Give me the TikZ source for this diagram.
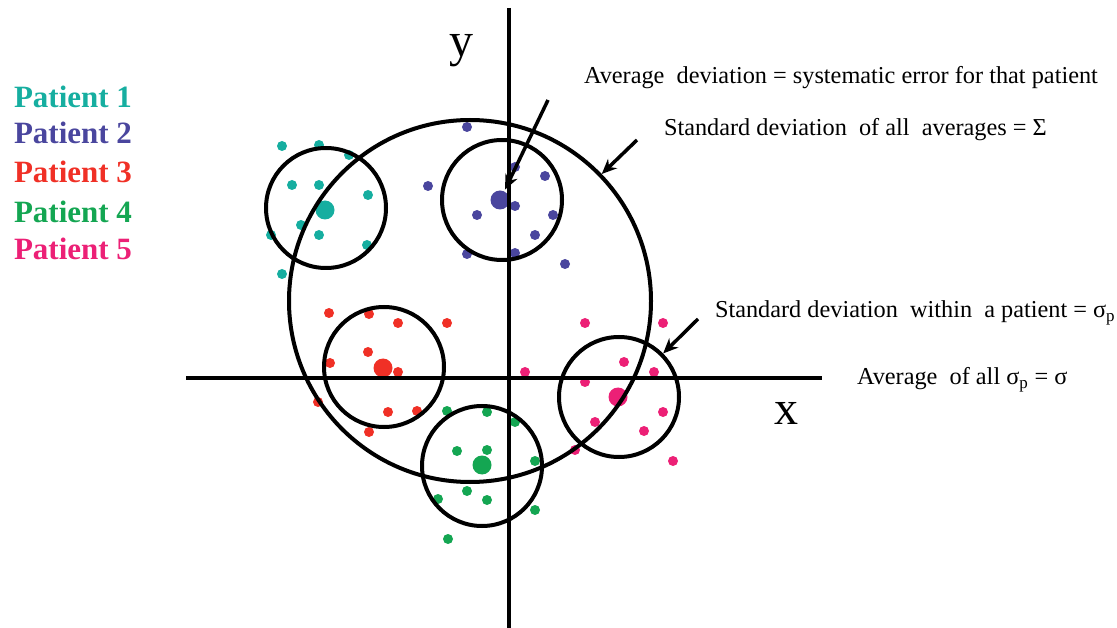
\documentclass[tikz,border=0pt]{standalone}
\usepackage{fontspec}
\setmainfont{Liberation Serif}
\usetikzlibrary{arrows.meta}

\definecolor{pone}{RGB}{22,174,160}
\definecolor{ptwo}{RGB}{74,70,158}
\definecolor{pthree}{RGB}{240,48,38}
\definecolor{pfour}{RGB}{20,166,82}
\definecolor{pfive}{RGB}{236,32,118}

\newcommand{\sgp}{σ\textsubscript{p}}

\begin{document}
\begin{tikzpicture}[x=1pt, y=-1pt, line width=4pt,
  mean/.style={circle, fill, inner sep=0pt, minimum size=19pt},
  ring/.style={draw, circle, inner sep=0pt, minimum size=120pt},
  note/.style={font=\fontsize{24.3}{27}\selectfont, inner sep=0pt, anchor=west},
  legend/.style={font=\fontsize{31}{34}\selectfont\bfseries, inner sep=0pt, anchor=west},
  pointer/.style={-{Stealth[length=15pt, width=13pt]}, line width=3.5pt}]
  \useasboundingbox (0,0) rectangle (1117,628);

  % single readings
  \foreach \p in {(282,146),(319,145),(349,155),(292,185),(319,185),(368,195),
                  (301,225),(319,235),(271,235),(367,245),(282,274)}
    \fill[pone] \p circle (5pt);
  \foreach \p in {(467,127),(428,186),(515,167),(545,176),(515,206),(477,215),
                  (553,215),(535,235),(467,254),(515,253),(565,264)}
    \fill[ptwo] \p circle (5pt);
  \foreach \p in {(329,313),(369,314),(398,323),(447,323),(368,352),(330,363),
                  (398,372),(318,402),(388,412),(417,411),(369,432)}
    \fill[pthree] \p circle (5pt);
  \foreach \p in {(447,411),(487,412),(515,422),(457,451),(487,450),(535,461),
                  (467,491),(438,499),(487,500),(535,510),(448,539)}
    \fill[pfour] \p circle (5pt);
  \foreach \p in {(585,323),(663,323),(525,372),(624,362),(654,372),(585,382),
                  (663,412),(595,422),(644,431),(575,450),(673,461)}
    \fill[pfive] \p circle (5pt);

  % patient means
  \node[mean, pone] (m1) at (325,210) {};
  \node[mean, ptwo] (m2) at (500,200) {};
  \node[mean, pthree] (m3) at (383,368) {};
  \node[mean, pfour] (m4) at (482,465) {};
  \node[mean, pfive] (m5) at (618,397) {};

  % axes
  \draw[line width=3.3pt] (509,8) -- (509,628);
  \draw[line width=3.3pt] (186,378) -- (822,378);
  \node[font=\fontsize{48}{50}\selectfont, inner sep=0pt] (ylab) at (461,51) {y};
  \node[font=\fontsize{48}{50}\selectfont, inner sep=0pt] (xlab) at (786,413) {x};

  % spread circles
  \node[ring] (r1) at (326,208) {};
  \node[ring] (r2) at (502,200) {};
  \node[ring] (r3) at (384,367) {};
  \node[ring] (r4) at (482,466) {};
  \node[ring] (r5) at (619,397) {};
  \node[ring, minimum size=362pt] (all) at (470,301) {};

  % legend
  \node[legend, text=pone] (leg1) at (12,97) {Patient 1};
  \node[legend, text=ptwo] (leg2) at (12,133) {Patient 2};
  \node[legend, text=pthree] (leg3) at (12,172) {Patient 3};
  \node[legend, text=pfour] (leg4) at (12,212) {Patient 4};
  \node[legend, text=pfive] (leg5) at (12,249) {Patient 5};

  % annotations
  \node[note] (avgdev) at (582,78) {Average\ \ deviation = systematic error for that patient};
  \node[note] (sdall) at (662,130) {Standard deviation\ \ of all\ \ averages = Σ};
  \node[note] (sdin) at (713,313) {Standard deviation\ \ within\ \ a patient = \sgp};
  \node[note] (avgsg) at (855,380) {Average\ \ of all \sgp\ = σ};

  \coordinate (t1) at (548,100);
  \coordinate (t2) at (637,140);
  \coordinate (t3) at (698,319);
  \draw[pointer] (t1) -- (m2);
  \draw[pointer] (t2) -- (all);
  \draw[pointer] (t3) -- (r5);
\end{tikzpicture}
\end{document}
